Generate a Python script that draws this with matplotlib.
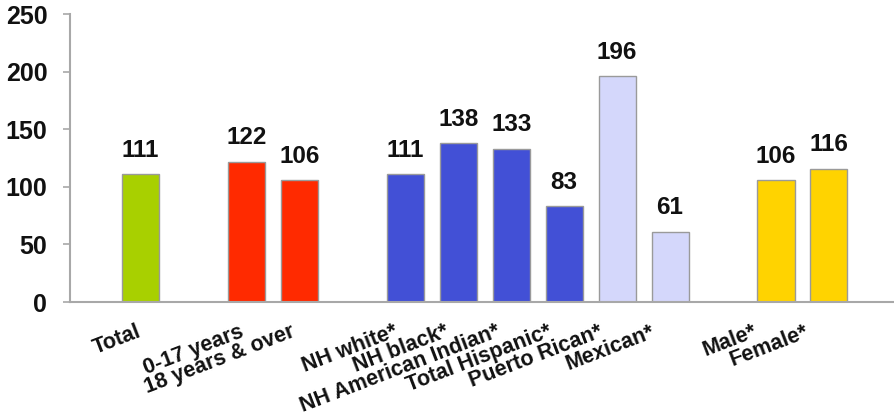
import matplotlib
matplotlib.use("Agg")
import matplotlib.pyplot as plt
import matplotlib.transforms as mtransforms

plt.rcParams['font.family'] = ['Liberation Sans', 'DejaVu Sans']

# Groups of categories, values and bar colours
groups = [
    ["Total"],
    ["0-17 years", "18 years & over"],
    ["NH white*", "NH black*", "NH American Indian*", "Total Hispanic*",
     "Puerto Rican*", "Mexican*"],
    ["Male*", "Female*"],
]
values = [
    [111],
    [122, 106],
    [111, 138, 133, 83, 196, 61],
    [106, 116],
]
colors = [
    ["#A8D000"],
    ["#FF2A00", "#FF2A00"],
    ["#4250D6", "#4250D6", "#4250D6", "#4250D6", "#D4D7FB", "#D4D7FB"],
    ["#FFD300", "#FFD300"],
]
yticks = [0, 50, 100, 150, 200, 250]

# Flatten, leaving one empty slot between groups
labels, vals, cols, xs = [], [], [], []
slot = 0
for g, v, c in zip(groups, values, colors):
    for lab, val, col in zip(g, v, c):
        labels.append(lab)
        vals.append(val)
        cols.append(col)
        xs.append(slot)
        slot += 1
    slot += 1

fig = plt.figure(figsize=(8.94, 4.18), dpi=100)
ax = fig.add_axes([69.5 / 894, 116 / 418, 823.5 / 894, 287.7 / 418])

ax.bar(xs, vals, width=0.70, color=cols, edgecolor="#9A9A9A", linewidth=1.0, zorder=2)

for x, v in zip(xs, vals):
    ax.annotate(str(v), (x, v), xytext=(0, 12.6), textcoords="offset points",
                ha="center", va="baseline", fontsize=17.5, fontweight="bold",
                color="#111111")

ax.set_xlim(-1.341, 14.21)
ax.set_ylim(0, 250)
ax.set_yticks(yticks)
ax.set_yticklabels([str(t) for t in yticks], fontsize=18, fontweight="bold",
                   color="#111111")
ax.set_xticks([])

for side in ("top", "right"):
    ax.spines[side].set_visible(False)
for side in ("left", "bottom"):
    ax.spines[side].set_color("#A8A8A8")
    ax.spines[side].set_linewidth(1.5)
ax.tick_params(axis="y", direction="out", length=5, width=1.2,
               color="#A8A8A8", pad=11)

# Rotated category labels below the axis
trans = mtransforms.blended_transform_factory(ax.transData, ax.transAxes)
base = -34 / 287.7
for x, lab in zip(xs, labels):
    ax.text(0.028 + 0.97 * x, base, lab, transform=trans, rotation=21,
            rotation_mode="anchor", ha="right", va="baseline",
            fontsize=15.5, fontweight="bold", color="#111111")

fig.savefig("out.png", dpi=100)
